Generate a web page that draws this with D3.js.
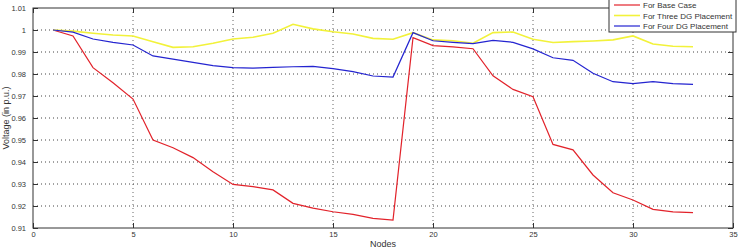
<!DOCTYPE html>
<html>
<head>
<meta charset="utf-8">
<script src="https://cdn.jsdelivr.net/npm/d3@7"></script>
<style>
  body { margin: 0; background: #fff; }
  svg { display: block; font-family: "Liberation Sans", Arial, sans-serif; }
</style>
</head>
<body>
<svg id="chart"></svg>
<script>
const w = 748;
const h = 248;

// node numbers 1..33
const nodes = [1,2,3,4,5,6,7,8,9,10,11,12,13,14,15,16,17,18,19,20,21,22,23,24,25,26,27,28,29,30,31,32,33];

const baseCase = [1.0, 0.9973, 0.9829, 0.976, 0.9686, 0.95, 0.9465, 0.942, 0.9356, 0.9298, 0.9288, 0.9273,
  0.9212, 0.919, 0.9174, 0.9162, 0.9144, 0.9136, 0.9965, 0.9929, 0.9923, 0.9915, 0.9792, 0.973, 0.9697,
  0.948, 0.9455, 0.9341, 0.926, 0.9227, 0.9185, 0.9173, 0.917];

const threeDG = [1.0, 0.9995, 0.9985, 0.9977, 0.9973, 0.9947, 0.9921, 0.9924, 0.994, 0.9959, 0.9967, 0.9985,
  1.0026, 1.0005, 0.9992, 0.9982, 0.9962, 0.9958, 0.9988, 0.9955, 0.9951, 0.994, 0.9988, 0.9991, 0.9958,
  0.9943, 0.9947, 0.995, 0.9955, 0.9973, 0.9936, 0.9926, 0.9924];

const fourDG = [1.0, 0.999, 0.9959, 0.9944, 0.9932, 0.9882, 0.9868, 0.9853, 0.9838, 0.9829, 0.9827, 0.983,
  0.9833, 0.9835, 0.9824, 0.9811, 0.9791, 0.9786, 0.9988, 0.9951, 0.9944, 0.9938, 0.9953, 0.9944, 0.9914,
  0.9874, 0.9862, 0.9803, 0.9765, 0.9756, 0.9765, 0.9756, 0.9753];

const xTicks = [0, 5, 10, 15, 20, 25, 30, 35];
const yTicks = [0.91, 0.92, 0.93, 0.94, 0.95, 0.96, 0.97, 0.98, 0.99, 1, 1.01];

const seriesNames = ["For Base Case", "For Three DG Placement", "For Four DG Placement"];
const seriesColors = ["#e2222a", "#f2f23a", "#2424d0"];
const seriesData = [baseCase, threeDG, fourDG];

const svg = d3.select("#chart")
  .attr("width", w)
  .attr("height", h);

const padL = 33, padR = 733, padT = 8, padB = 228;

const x = d3.scaleLinear().domain([0, 35]).range([padL, padR]);
const y = d3.scaleLinear().domain([0.91, 1.01]).range([padB, padT]);

// grid
const grid = svg.append("g");
grid.selectAll("line.gx")
  .data(xTicks.slice(1, -1))
  .enter().append("line")
  .attr("x1", d => x(d)).attr("x2", d => x(d))
  .attr("y1", padT).attr("y2", padB)
  .attr("stroke", "#666")
  .attr("stroke-dasharray", "1,3");
grid.selectAll("line.gy")
  .data(yTicks.slice(1, -1))
  .enter().append("line")
  .attr("x1", padL).attr("x2", padR)
  .attr("y1", d => y(d)).attr("y2", d => y(d))
  .attr("stroke", "#444")
  .attr("stroke-dasharray", "1,3");

// axes, ticks pointing inward like matlab
const axisStyle = g => {
  g.select(".domain").remove();
  g.selectAll("line").attr("stroke", "#333");
  g.selectAll("text").attr("fill", "#333").attr("font-size", 7.5);
};

svg.append("g")
  .attr("transform", `translate(0,${padB})`)
  .call(d3.axisBottom(x).tickValues(xTicks).tickSize(-5).tickPadding(4).tickFormat(d3.format("d")))
  .call(axisStyle);
svg.append("g")
  .attr("transform", `translate(0,${padT})`)
  .call(d3.axisTop(x).tickValues(xTicks).tickSize(-5).tickFormat(""))
  .call(axisStyle);
svg.append("g")
  .attr("transform", `translate(${padL},0)`)
  .call(d3.axisLeft(y).tickValues(yTicks).tickSize(-5).tickPadding(7).tickFormat(d => d3.format("")(+d.toFixed(2))))
  .call(axisStyle);
svg.append("g")
  .attr("transform", `translate(${padR},0)`)
  .call(d3.axisRight(y).tickValues(yTicks).tickSize(-5).tickFormat(""))
  .call(axisStyle);

svg.append("rect")
  .attr("x", padL).attr("y", padT)
  .attr("width", padR - padL).attr("height", padB - padT)
  .attr("fill", "none")
  .attr("stroke", "#333")
  .attr("stroke-width", 1);

// lines
const line = d3.line()
  .x((d, i) => x(nodes[i]))
  .y(d => y(d));

svg.append("g").selectAll("path")
  .data(seriesData)
  .enter().append("path")
  .attr("d", line)
  .attr("fill", "none")
  .attr("stroke", (d, i) => seriesColors[i])
  .attr("stroke-width", (d, i) => i === 1 ? 1.6 : 1.2);

// axis labels
svg.append("text")
  .attr("x", (padL + padR) / 2)
  .attr("y", 247)
  .attr("text-anchor", "middle")
  .attr("font-size", 9)
  .attr("fill", "#333")
  .text("Nodes");

svg.append("text")
  .attr("transform", `translate(9,${(padT + padB) / 2}) rotate(-90)`)
  .attr("text-anchor", "middle")
  .attr("font-size", 9)
  .attr("fill", "#333")
  .text("Voltage (in p.u.)");

// legend
const legend = svg.append("g");
legend.append("rect")
  .attr("x", 609).attr("y", -1)
  .attr("width", 127).attr("height", 33)
  .attr("fill", "#fff")
  .attr("stroke", "#333");

const items = legend.selectAll("g")
  .data(seriesNames)
  .enter().append("g")
  .attr("transform", (d, i) => `translate(614,${5 + i * 10.5})`);
items.append("line")
  .attr("x1", 0).attr("x2", 26)
  .attr("stroke", (d, i) => seriesColors[i])
  .attr("stroke-width", (d, i) => i === 1 ? 1.6 : 1.2);
items.append("text")
  .attr("x", 29).attr("y", 3)
  .attr("font-size", 8)
  .attr("fill", "#333")
  .text(d => d);
</script>
</body>
</html>
